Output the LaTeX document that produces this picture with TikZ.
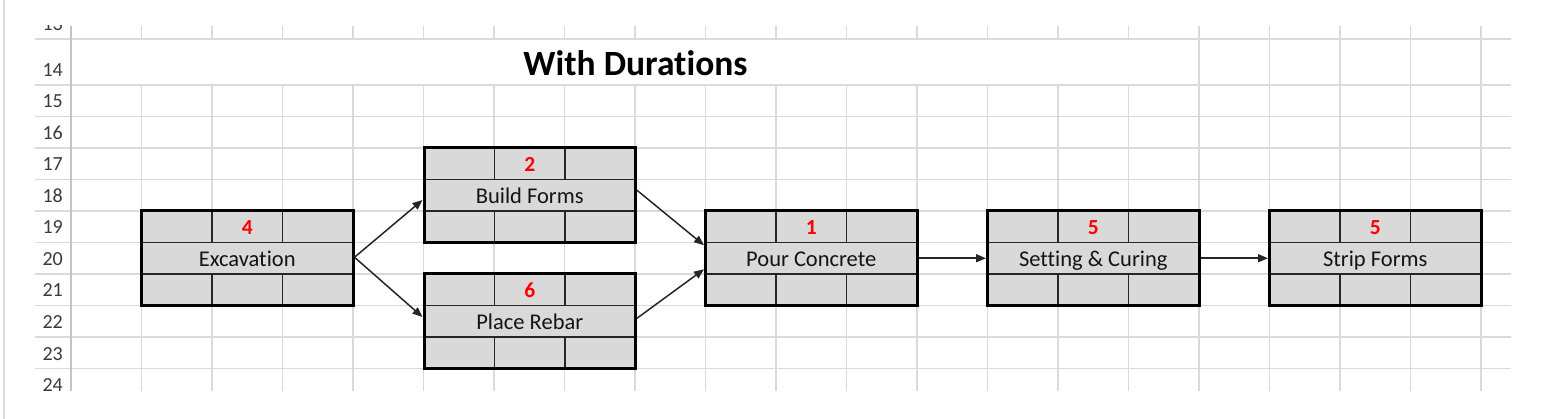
\documentclass[tikz,border=0pt]{standalone}
\usepackage{fontspec}
\setmainfont[Ligatures=NoCommon,RawFeature=-liga]{Carlito}
\usetikzlibrary{arrows.meta,calc}
\definecolor{gridc}{HTML}{DADADA}
\definecolor{hdrc}{HTML}{C4C4C4}
\definecolor{boxfill}{HTML}{D9D9D9}
\definecolor{lblc}{HTML}{3A3A3A}
\definecolor{durred}{HTML}{FF0000}
\definecolor{txtc}{HTML}{141414}
\definecolor{arrc}{HTML}{262626}
\tikzset{
  gridline/.style={draw=gridc, line width=1.5pt},
  hdrline/.style={draw=hdrc, line width=2pt},
  rowlbl/.style={anchor=base east, inner sep=0pt, text=lblc, font=\fontsize{20}{22}\selectfont},
  actnode/.style={draw=black, line width=3pt, fill=boxfill, rectangle, minimum width=211.5pt, minimum height=94.5pt, inner sep=0pt, outer sep=0pt, anchor=north west},
  innerline/.style={draw=black!85, line width=1.8pt},
  durtext/.style={anchor=base, inner sep=0pt, text=durred, font=\fontsize{21.5}{24}\selectfont\bfseries},
  nametext/.style={anchor=base, inner sep=0pt, text=txtc, font=\fontsize{22.5}{26}\selectfont},
  titletext/.style={anchor=base, inner sep=0pt, text=black, font=\fontsize{35.5}{40}\selectfont\bfseries},
  conn/.style={draw=arrc, line width=1.5pt, -{Triangle[length=10pt,width=8pt]}}
}
\newcommand\actbox[5]{%
  \node[actnode] (#1) at (#2,#3) {};
  \draw[innerline] (#2,#3+31.5) -- (#2+211.5,#3+31.5);
  \draw[innerline] (#2,#3+63) -- (#2+211.5,#3+63);
  \draw[innerline] (#2+70.5,#3) -- (#2+70.5,#3+31.5);
  \draw[innerline] (#2+141,#3) -- (#2+141,#3+31.5);
  \draw[innerline] (#2+70.5,#3+63) -- (#2+70.5,#3+94.5);
  \draw[innerline] (#2+141,#3+63) -- (#2+141,#3+94.5);
  \draw[draw=black, line width=3pt] (#2,#3) rectangle (#2+211.5,#3+94.5);
  \node[durtext] (#1d) at (#2+105.75,#3+23.5) {#4};
  \node[nametext] (#1l) at (#2+105.75,#3+56) {#5};
}
\begin{document}
\begin{tikzpicture}[x=1pt,y=-1pt]
\useasboundingbox (0,0) rectangle (1544,419);
\fill[white] (0,0) rectangle (1544,419);
\draw[gridline] (4,0) -- (4,419);
\begin{scope}
  \clip (0,26) rectangle (1544,391);
  \foreach \yy in {39,85,116.5,148,179.5,211,242.5,274,305.5,337,368.5}
    \draw[gridline] (35,\yy) -- (1511,\yy);
  \foreach \k [evaluate=\k as \xx using 141.5+70.5*\k] in {0,...,19} {
    \draw[gridline] (\xx,26) -- (\xx,39);
    \draw[gridline] (\xx,85) -- (\xx,391);
  }
  \foreach \k [evaluate=\k as \xx using 141.5+70.5*\k] in {15,...,19}
    \draw[gridline] (\xx,39) -- (\xx,85);
  \draw[hdrline] (71,26) -- (71,391);
  \node[rowlbl] (r13) at (63,30.5) {13};
  \node[rowlbl] (r14) at (63,76.5) {14};
  \foreach \r in {15,...,24} {
    \pgfmathsetmacro\yb{85+31.5*(\r-14)-8.5}
    \node[rowlbl] (r\r) at (63,\yb) {\r};
  }
\end{scope}
\node[titletext] (title) at (635.5,75.5) {With Durat\kern0pt ions};
\actbox{exc}{141.5}{211}{4}{Excavation}
\actbox{bf}{424}{148}{2}{Build Forms}
\actbox{pr}{424}{274}{6}{Place Rebar}
\actbox{pc}{705.5}{211}{1}{Pour Concrete}
\actbox{sc}{987.5}{211}{5}{Setting \& Curing}
\actbox{sf}{1269.5}{211}{5}{Strip Forms}
\draw[conn] ($(exc.east)+(1.5,-1)$) -- ($(bf.west)+(-1.5,4.75)$);
\draw[conn] ($(exc.east)+(1.5,-1)$) -- ($(pr.west)+(-1.5,-4.25)$);
\draw[conn] ($(bf.east)+(1.5,-5)$) -- ($(pc.west)+(-1.5,-13)$);
\draw[conn] ($(pr.east)+(1.5,-3)$) -- ($(pc.west)+(-1.5,11)$);
\draw[conn] ($(pc.east)+(1.5,0)$) -- ($(sc.west)+(-1.5,0)$);
\draw[conn] ($(sc.east)+(1.5,0)$) -- ($(sf.west)+(-1.5,0)$);
\end{tikzpicture}
\end{document}
